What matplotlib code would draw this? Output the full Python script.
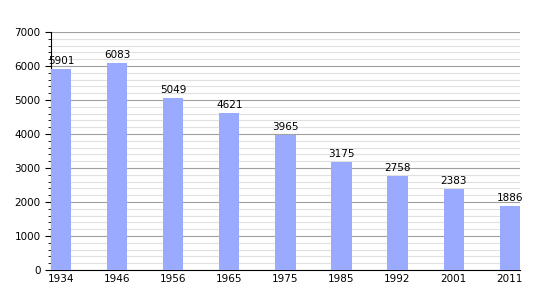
import numpy as np
import matplotlib.pyplot as plt
from matplotlib.ticker import MultipleLocator

years = ['1934', '1946', '1956', '1965', '1975', '1985', '1992', '2001', '2011']
population = [5901, 6083, 5049, 4621, 3965, 3175, 2758, 2383, 1886]

fig = plt.figure(figsize=(5.5, 3), dpi=100)
ax = fig.add_axes([0.093, 0.1, 0.852, 0.793])

x = np.arange(len(years))
ax.bar(x, population, width=0.36, color='#99aaff', zorder=3)
for xi, v in zip(x, population):
    ax.text(xi, v + 100, str(v), ha='center', va='bottom', fontsize=7.5, zorder=4)

ax.set_xlim(-0.18, len(years) - 1 + 0.18)
ax.set_ylim(0, 7000)
ax.set_xticks(x)
ax.set_xticklabels(years, fontsize=7.5)
ax.yaxis.set_major_locator(MultipleLocator(1000))
ax.yaxis.set_minor_locator(MultipleLocator(200))
ax.tick_params(axis='y', labelsize=7.5, length=4)
ax.tick_params(axis='y', which='minor', length=2)
ax.tick_params(axis='x', length=0, pad=3)
ax.grid(axis='y', which='major', color='#a0a0a0', linewidth=0.8, zorder=1)
ax.grid(axis='y', which='minor', color='#e0e0e0', linewidth=0.8, zorder=0)
for s in ['top', 'right']:
    ax.spines[s].set_visible(False)

fig.savefig('out.png', dpi=100)
